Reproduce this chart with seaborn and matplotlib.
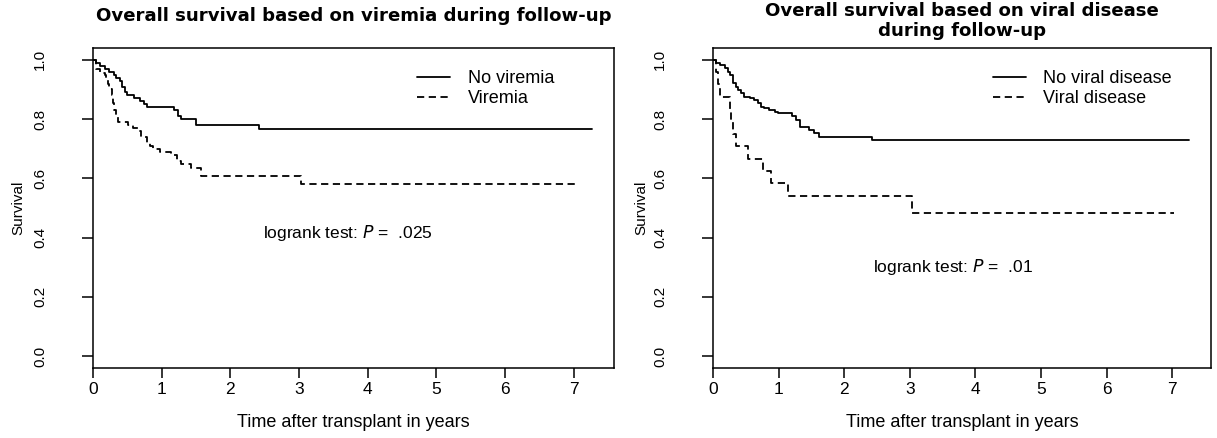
import matplotlib
matplotlib.use("Agg")
import matplotlib.pyplot as plt
import seaborn as sns
import numpy as np

# Kaplan-Meier step curves (time in years, survival)
t_noviremia = [0, 0.05, 0.1, 0.17, 0.23, 0.3, 0.34, 0.4, 0.42, 0.46, 0.5, 0.6, 0.68, 0.74, 0.78,
               1.18, 1.24, 1.28, 1.5, 2.42, 7.27]
s_noviremia = [1.0, 0.99, 0.98, 0.97, 0.96, 0.95, 0.94, 0.93, 0.91, 0.89, 0.88, 0.87, 0.86, 0.85, 0.84,
               0.83, 0.81, 0.80, 0.78, 0.765, 0.765]

t_viremia = [0, 0.05, 0.1, 0.17, 0.19, 0.22, 0.24, 0.27, 0.29, 0.31, 0.34, 0.36, 0.51, 0.58, 0.65,
             0.70, 0.79, 0.83, 0.87, 0.97, 1.14, 1.23, 1.28, 1.43, 1.57, 3.03, 7.08]
s_viremia = [1.0, 0.97, 0.955, 0.95, 0.94, 0.92, 0.90, 0.88, 0.855, 0.83, 0.81, 0.79, 0.78, 0.77, 0.76,
             0.74, 0.72, 0.71, 0.70, 0.69, 0.68, 0.66, 0.65, 0.635, 0.607, 0.58, 0.58]

t_nodisease = [0, 0.05, 0.10, 0.18, 0.23, 0.254, 0.30, 0.354, 0.38, 0.43, 0.48, 0.56, 0.63, 0.68, 0.73,
               0.78, 0.86, 0.94, 0.99, 1.21, 1.26, 1.32, 1.47, 1.54, 1.62, 2.43, 7.26]
s_nodisease = [1.0, 0.99, 0.983, 0.972, 0.96, 0.949, 0.921, 0.91, 0.899, 0.887, 0.876, 0.87, 0.865, 0.854, 0.842,
               0.836, 0.831, 0.825, 0.82, 0.809, 0.797, 0.775, 0.764, 0.752, 0.741, 0.73, 0.73]

t_disease = [0, 0.04, 0.07, 0.10, 0.26, 0.28, 0.31, 0.35, 0.53, 0.76, 0.89, 1.14, 3.03, 7.03]
s_disease = [1.0, 0.958, 0.917, 0.875, 0.833, 0.792, 0.75, 0.708, 0.667, 0.625, 0.583, 0.542, 0.482, 0.482]

xticks = [0, 1, 2, 3, 4, 5, 6, 7]
yticks = [0.0, 0.2, 0.4, 0.6, 0.8, 1.0]

sns.set_style("ticks")
plt.rcParams['font.family'] = ['Liberation Sans', 'DejaVu Sans']
plt.rcParams['text.color'] = 'black'
plt.rcParams['axes.labelcolor'] = 'black'
plt.rcParams['xtick.color'] = 'black'
plt.rcParams['ytick.color'] = 'black'

fig = plt.figure(figsize=(12.17, 4.38), dpi=100)
ax1 = fig.add_axes([93/1217, 1-368/438, (614-93)/1217, 320/438])
ax2 = fig.add_axes([713/1217, 1-368/438, (1211-713)/1217, 320/438])

panels = [
    (ax1, t_noviremia, s_noviremia, "No viremia", t_viremia, s_viremia, "Viremia",
     "Overall survival based on viremia during follow-up", 1.10, "logrank test: $\\it{P}$ =  .025",
     (2.47, 0.415), 0.622),
    (ax2, t_nodisease, s_nodisease, "No viral disease", t_disease, s_disease, "Viral disease",
     "Overall survival based on viral disease\nduring follow-up", 1.085, "logrank test: $\\it{P}$ =  .01",
     (2.44, 0.30), 0.562),
]

for ax, ta, sa, la, tb, sb, lb, title, title_y, note, note_xy, leg_x in panels:
    sns.lineplot(x=ta, y=sa, ax=ax, drawstyle='steps-post', color='black', lw=1.3, label=la)
    sns.lineplot(x=tb, y=sb, ax=ax, drawstyle='steps-post', color='black', lw=1.3,
                 linestyle=(0, (4, 2.5)), label=lb)
    ax.set_xlim(0, 7.59)
    ax.set_ylim(-0.04, 1.04)
    ax.set_xticks(xticks)
    ax.set_yticks(yticks)
    ax.set_yticklabels([f"{v:.1f}" for v in yticks], rotation=90, va='center')
    ax.tick_params(axis='x', length=7, width=1.1, pad=3, labelsize=12.5)
    ax.tick_params(axis='y', length=8, width=1.1, pad=25, labelsize=11)
    for sp in ax.spines.values():
        sp.set_visible(True)
        sp.set_linewidth(1.1)
        sp.set_color('black')
    ax.set_xlabel("Time after transplant in years", fontsize=13)
    ax.set_ylabel("Survival", fontsize=11)
    ax.xaxis.set_label_coords(0.5, -0.145)
    ax.yaxis.set_label_coords(-0.13, 0.5)
    ax.text(0.5, title_y, title, transform=ax.transAxes, ha='center', va='center',
            fontsize=13.1, fontweight='bold', family='DejaVu Sans', linespacing=1.15)
    ax.text(note_xy[0], note_xy[1], note, ha='left', va='center', fontsize=12.5)
    ax.legend(loc='upper left', bbox_to_anchor=(leg_x, 0.93), frameon=False, fontsize=13,
              handlelength=1.85, handletextpad=0.95, labelspacing=0.15, borderpad=0, borderaxespad=0)

fig.savefig("out.png", dpi=100)
